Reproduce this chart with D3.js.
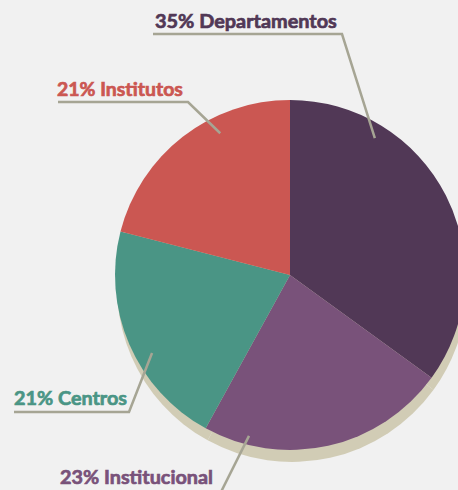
<!DOCTYPE html>
<html>
<head>
<meta charset="utf-8">
<script src="https://cdn.jsdelivr.net/npm/d3@7"></script>
<style>
  html, body { margin: 0; padding: 0; background: #f1f1f1; }
  svg { display: block; }
</style>
</head>
<body>
<svg id="chart" width="458" height="490"></svg>
<script>
// ---- data ----
const categories = ["Departamentos", "Institucional", "Centros", "Institutos"];
const values = [35, 23, 21, 21];
const colors = ["#513856", "#79527a", "#4a9585", "#cb5752"];

// ---- layout (annotation geometry) ----
const W = 458, H = 490;
const cx = 290, cy = 275, R = 175;
// leader anchor: angle (deg, clockwise from top) and radius; elbow and label positions
const leaders = [
  { angle: 31.8, r: 161, elbow: [342, 34], lineStart: 153, textX: 155, textY: 28, textW: 182 },
  { angle: 194.3, r: 166, elbow: [216, 502], lineStart: null, textX: 60, textY: 484, textW: 153 },
  { angle: 240.5, r: 158.5, elbow: [129, 412], lineStart: 14, textX: 14, textY: 405, textW: 113 },
  { angle: 333.8, r: 158, elbow: [188, 102], lineStart: 58, textX: 57, textY: 96, textW: 126 }
];

const svg = d3.select("#chart");
svg.append("rect").attr("width", W).attr("height", H).attr("fill", "#f1f1f1");

const pie = d3.pie().sort(null).value(d => d.value).startAngle(0).endAngle(2 * Math.PI);
const data = categories.map((c, i) => ({ name: c, value: values[i], color: colors[i] }));
const arcs = pie(data);
const arc = d3.arc().innerRadius(0).outerRadius(R);

// shadow
svg.append("g").attr("transform", `translate(${cx + 2},${cy + 12})`)
  .selectAll("path").data(arcs).join("path")
  .attr("d", arc).attr("fill", "#d1ccb5");

// slices
svg.append("g").attr("transform", `translate(${cx},${cy})`)
  .selectAll("path").data(arcs).join("path")
  .attr("d", arc).attr("fill", d => d.data.color);

// leaders + labels
const gL = svg.append("g");
leaders.forEach((L, i) => {
  const p = d3.pointRadial(L.angle * Math.PI / 180, L.r);
  const anchor = [cx + p[0], cy + p[1]];
  const pts = [];
  if (L.lineStart !== null) pts.push([L.lineStart, L.elbow[1]]);
  pts.push(L.elbow);
  pts.push(anchor);
  gL.append("path")
    .attr("d", d3.line()(pts))
    .attr("fill", "none")
    .attr("stroke", "#a6a594")
    .attr("stroke-width", 2.5)
    .attr("stroke-linejoin", "miter");

  const t = gL.append("text")
    .attr("x", L.textX).attr("y", L.textY)
    .attr("fill", colors[i])
    .attr("stroke", colors[i])
    .attr("stroke-width", 0.7)
    .attr("font-family", "Lato, 'Open Sans', sans-serif")
    .attr("font-weight", "bold")
    .attr("font-size", 18)
    .text(`${values[i]}% ${categories[i]}`);
  const w = t.node().getComputedTextLength();
  t.attr("font-size", 18 * L.textW / w);
});
</script>
</body>
</html>
